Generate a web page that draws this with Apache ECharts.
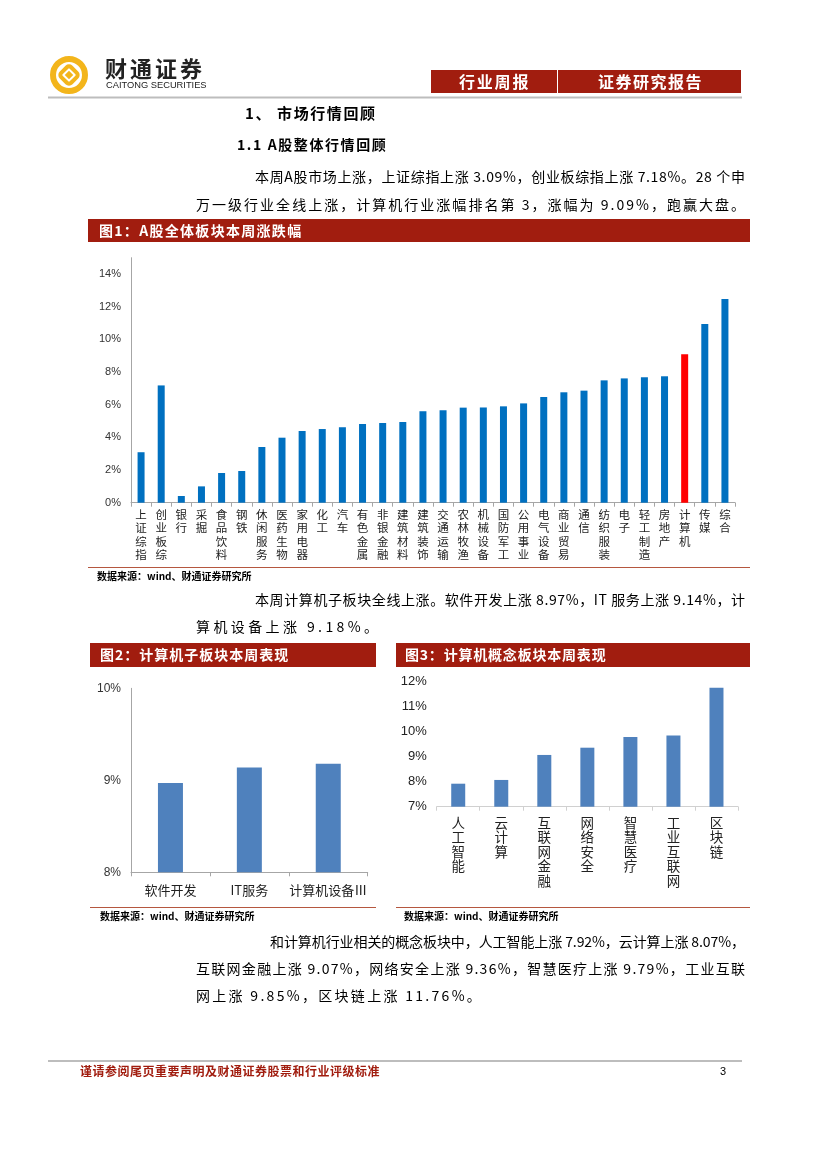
<!DOCTYPE html>
<html><head><meta charset="utf-8">
<script src="https://cdn.jsdelivr.net/npm/echarts@6/dist/echarts.min.js"></script>
<style>html,body{margin:0;padding:0;background:#fff}#c{width:827px;height:1170px}</style>
</head><body><div id="c"></div>
<script>
// ---- Data ----
const industries = ['上证综指','创业板综','银行','采掘','食品饮料','钢铁','休闲服务','医药生物','家用电器','化工','汽车','有色金属','非银金融','建筑材料','建筑装饰','交通运输','农林牧渔','机械设备','国防军工','公用事业','电气设备','商业贸易','通信','纺织服装','电子','轻工制造','房地产','计算机','传媒','综合'];
const industryChg = [3.09,7.18,0.41,1.00,1.82,1.94,3.41,3.98,4.39,4.51,4.62,4.82,4.88,4.94,5.60,5.66,5.82,5.83,5.90,6.08,6.47,6.76,6.86,7.49,7.61,7.68,7.74,9.09,10.94,12.47];
const highlight = '计算机';
const subSectors = ['软件开发','IT服务','计算机设备Ⅲ'];
const subChg = [8.97,9.14,9.18];
const concepts = ['人工智能','云计算','互联网金融','网络安全','智慧医疗','工业互联网','区块链'];
const conceptChg = [7.92,8.07,9.07,9.36,9.79,9.85,11.76];
const ticks1 = [0,2,4,6,8,10,12,14];
const ticks2 = [8,9,10];
const ticks3 = [7,8,9,10,11,12];

const CJK = '"Noto Sans CJK SC","Noto Sans",sans-serif';
const LAT = 'Arial, "Liberation Sans", sans-serif';
const RED = '#a11d0f';
const chart = echarts.init(document.getElementById('c'), null, {renderer:'canvas'});
const mctx = document.createElement('canvas').getContext('2d');

function fontOf(size, opts){ return (opts.bold?'bold ':'')+size+'px '+(opts.family||CJK); }
function txt(x,y,text,size,opts){
  opts = opts||{};
  return {type:'text', x:x, y:y, z:10, style:{text:text, fill:opts.fill||'#000',
    font:fontOf(size,opts), textAlign:opts.align||'left', textVerticalAlign:'middle'}};
}
// letter-spaced / justified text line
function spaced(x,y,text,size,opts){
  opts = opts||{};
  const font = fontOf(size,opts);
  mctx.font = font;
  const chars = Array.from(text);
  const w = chars.map(c=>mctx.measureText(c).width);
  const total = w.reduce((a,b)=>a+b,0);
  let sp = opts.spacing||0;
  if (opts.endX != null) sp = (opts.endX - x - total)/(chars.length-1);
  const out = [];
  let cx = x;
  chars.forEach((c,i)=>{
    if (c !== ' ') out.push({type:'text', x:cx, y:y, z:10, style:{text:c, fill:opts.fill||'#000', font:font, textAlign:'left', textVerticalAlign:'middle'}});
    cx += w[i] + sp;
  });
  return out;
}
function rect(x,y,w,h,fill){return {type:'rect', shape:{x:x,y:y,width:w,height:h}, style:{fill:fill}};}
function line(x1,y1,x2,y2,stroke,w){return {type:'line', shape:{x1:x1,y1:y1,x2:x2,y2:y2}, style:{stroke:stroke,lineWidth:w||1}};}

const B = 14; // body font size
const graphics = [].concat(
  // logo
  {type:'circle', shape:{cx:69,cy:75,r:16}, style:{fill:'none', stroke:'#f3b51b', lineWidth:6}},
  {type:'rect', shape:{x:-7,y:-7,width:14,height:14,r:3}, x:69, y:75, rotation:Math.PI/4, style:{fill:'none', stroke:'#f3b51b', lineWidth:4}},
  {type:'rect', shape:{x:-3,y:-3,width:6,height:6}, x:69, y:75, rotation:Math.PI/4, style:{fill:'#f3b51b'}},
  spaced(105,69,'财通证券',22,{bold:true,fill:'#222',spacing:3}),
  txt(106,85,'CAITONG SECURITIES',9.3,{fill:'#222',family:LAT}),
  // header boxes
  rect(431,70,126,23,RED), rect(558,70,183,23,RED),
  spaced(459,82,'行业周报',16,{bold:true,fill:'#fff',spacing:1.8}),
  spaced(598,82,'证券研究报告',16,{bold:true,fill:'#fff',spacing:1.5}),
  line(48,97.5,742,97.5,'#bdbdbd',2),
  spaced(245,113,'1、 市场行情回顾',15,{bold:true,spacing:1.6}),
  spaced(237,145,'1.1 A股整体行情回顾',14,{bold:true,spacing:1.6}),
  spaced(255,177,'本周A股市场上涨，上证综指上涨 3.09%，创业板综指上涨 7.18%。28 个申',B,{endX:745}),
  spaced(196,205,'万一级行业全线上涨，计算机行业涨幅排名第 3，涨幅为 9.09%，跑赢大盘。',B,{endX:745}),
  // fig1 header
  rect(88,219,662,23,RED),
  spaced(99,231,'图1：A股全体板块本周涨跌幅',14,{bold:true,fill:'#fff',spacing:1.3}),
  line(88,567.5,750,567.5,'#b5573f',1),
  txt(97,576,'数据来源：wind、财通证券研究所',10,{bold:true}),
  spaced(255,600,'本周计算机子板块全线上涨。软件开发上涨 8.97%，IT 服务上涨 9.14%，计',B,{endX:745}),
  spaced(196,627,'算机设备上涨 9.18%。',B,{spacing:3.4}),
  // fig2/3 headers
  rect(90,643,286,24,RED),
  spaced(100,655,'图2：计算机子板块本周表现',14,{bold:true,fill:'#fff',spacing:1}),
  rect(396,643,354,24,RED),
  spaced(405,655,'图3：计算机概念板块本周表现',14,{bold:true,fill:'#fff',spacing:0.8}),
  line(90,907.5,376,907.5,'#b5573f',1),
  line(396,907.5,750,907.5,'#b5573f',1),
  txt(100,916,'数据来源：wind、财通证券研究所',10,{bold:true}),
  txt(404,916,'数据来源：wind、财通证券研究所',10,{bold:true}),
  spaced(270,942,'和计算机行业相关的概念板块中，人工智能上涨 7.92%，云计算上涨 8.07%，',B,{endX:745}),
  spaced(196,969,'互联网金融上涨 9.07%，网络安全上涨 9.36%，智慧医疗上涨 9.79%，工业互联',B,{endX:745}),
  spaced(196,996,'网上涨 9.85%，区块链上涨 11.76%。',B,{spacing:2.3}),
  // footer
  line(48,1061,742,1061,'#bdbdbd',2),
  spaced(80,1071,'谨请参阅尾页重要声明及财通证券股票和行业评级标准',12,{bold:true,fill:RED,spacing:0.5}),
  txt(720,1072,'3',11,{family:LAT})
);

const vert = s => s.split('').join('\n');
const axisGray = '#a6a6a6';

const option = {
  animation:false,
  backgroundColor:'#fff',
  textStyle:{fontFamily:CJK},
  graphic: graphics,
  grid:[
    {left:131, right:92, top:257.7, bottom:1170-502.7},
    {left:131, right:459.3, top:688.3, bottom:1170-872.3},
    {left:436.7, right:89, top:681.7, bottom:1170-806.7}
  ],
  xAxis:[
    {gridIndex:0, type:'category', data:industries,
      axisLine:{lineStyle:{color:axisGray}}, axisTick:{show:true,length:4,lineStyle:{color:axisGray}},
      axisLabel:{interval:0, formatter:vert, fontSize:11.5, lineHeight:13.4, color:'#222', margin:5, verticalAlign:'top'}},
    {gridIndex:1, type:'category', data:subSectors,
      axisLine:{lineStyle:{color:axisGray}}, axisTick:{show:true,length:4,lineStyle:{color:axisGray}},
      axisLabel:{interval:0, fontSize:13, color:'#222', margin:11}},
    {gridIndex:2, type:'category', data:concepts,
      axisLine:{lineStyle:{color:'#d0d0d0'}}, axisTick:{show:true,length:4,lineStyle:{color:'#d0d0d0'}},
      axisLabel:{interval:0, formatter:vert, fontSize:13.5, lineHeight:14.4, color:'#222', margin:9, verticalAlign:'top'}}
  ],
  yAxis:[
    {gridIndex:0, type:'value', min:0, max:15, interval:2,
      axisLine:{show:true,lineStyle:{color:axisGray}}, axisTick:{show:false}, splitLine:{show:false},
      axisLabel:{fontSize:11, color:'#333', margin:10, fontFamily:LAT,
        formatter:v => ticks1.indexOf(v) >= 0 ? v + '%' : ''}},
    {gridIndex:1, type:'value', min:ticks2[0], max:ticks2[ticks2.length-1], interval:1,
      axisLine:{show:true,lineStyle:{color:axisGray}}, axisTick:{show:false}, splitLine:{show:false},
      axisLabel:{fontSize:12, color:'#333', margin:10, fontFamily:LAT, formatter:'{value}%'}},
    {gridIndex:2, type:'value', min:ticks3[0], max:ticks3[ticks3.length-1], interval:1,
      axisLine:{show:false}, axisTick:{show:false}, splitLine:{show:false},
      axisLabel:{fontSize:13, color:'#222', margin:10, fontFamily:LAT, formatter:'{value}%'}}
  ],
  series:[
    {type:'bar', xAxisIndex:0, yAxisIndex:0, barWidth:7,
      data: industryChg.map((v,i)=>({value:v, itemStyle:{color: industries[i]===highlight ? '#ff0000' : '#0070c0'}}))},
    {type:'bar', xAxisIndex:1, yAxisIndex:1, barWidth:25, itemStyle:{color:'#4f81bd'}, data: subChg},
    {type:'bar', xAxisIndex:2, yAxisIndex:2, barWidth:14, itemStyle:{color:'#4f81bd'}, data: conceptChg}
  ]
};
chart.setOption(option);
</script></body></html>
